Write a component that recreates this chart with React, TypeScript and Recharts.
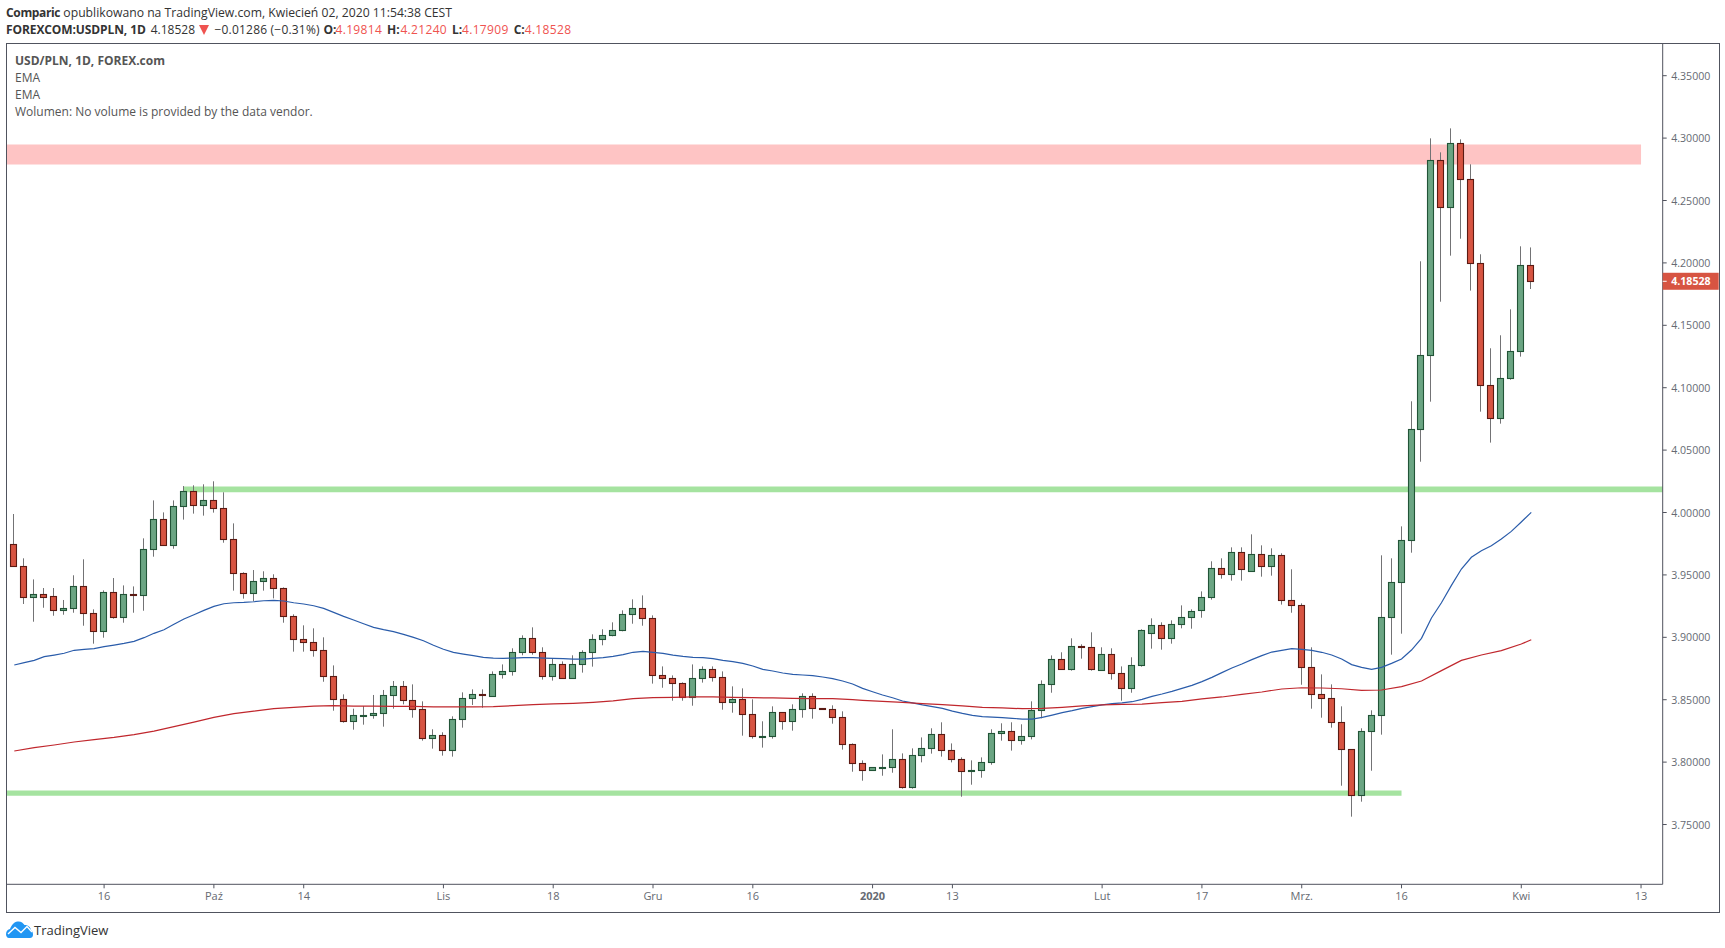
import React from "react";
import { ComposedChart, Bar, Line, XAxis, YAxis, ReferenceArea } from "recharts";

const opens = [
  3.9745,3.9569,3.9320,3.9344,3.9328,3.9216,3.9232,3.9408,3.9192,3.9048,
  3.9360,3.9160,3.9344,3.9336,3.9705,3.9945,3.9737,4.0049,4.0170,4.0057,
  4.0097,4.0033,3.9785,3.9513,3.9352,3.9448,3.9472,3.9392,3.9168,3.8984,
  3.8960,3.8896,3.8687,3.8503,3.8327,3.8372,3.8375,3.8391,3.8535,3.8607,
  3.8495,3.8423,3.8190,3.8215,3.8094,3.8343,3.8511,3.8543,3.8532,3.8703,
  3.8727,3.8880,3.8992,3.8880,3.8687,3.8783,3.8677,3.8783,3.8880,3.8984,
  3.9016,3.9056,3.9184,3.9232,3.9152,3.8695,3.8671,3.8631,3.8519,3.8671,
  3.8743,3.8679,3.8479,3.8503,3.8383,3.8204,3.8206,3.8399,3.8327,3.8423,
  3.8527,3.8431,3.8423,3.8359,3.8142,3.7990,3.7934,3.7955,3.7958,3.8022,
  3.7798,3.8054,3.8110,3.8223,3.8094,3.8022,3.7926,3.7934,3.7998,3.8230,
  3.8247,3.8174,3.8206,3.8415,3.8623,3.8823,3.8743,3.8928,3.8920,3.8735,
  3.8864,3.8711,3.8591,3.8775,3.9032,3.9096,3.8992,3.9104,3.9160,3.9216,
  3.9320,3.9553,3.9505,3.9681,3.9529,3.9665,3.9569,3.9657,3.9296,3.9256,
  3.8759,3.8543,3.8511,3.8319,3.8102,3.7734,3.8247,3.8375,3.9160,3.9441,
  3.9777,4.0666,4.1259,4.2822,4.2445,4.2958,4.2670,4.1997,4.1019,4.0755,
  4.1075,4.1291,4.19814,
];
const highs = [
  3.9988,3.9633,3.9464,3.9395,3.9395,3.9299,3.9497,3.9625,3.9224,3.9376,
  3.9475,3.9416,3.9408,3.9793,4.0097,4.0001,4.0097,4.0212,4.0218,4.0226,
  4.0250,4.0162,3.9913,3.9521,3.9539,3.9529,3.9505,3.9400,3.9184,3.9096,
  3.9072,3.9000,3.8775,3.8543,3.8428,3.8449,3.8538,3.8578,3.8650,3.8650,
  3.8623,3.8487,3.8263,3.8239,3.8367,3.8559,3.8583,3.8583,3.8727,3.8783,
  3.8912,3.9016,3.9080,3.8920,3.8832,3.8807,3.8856,3.8896,3.9024,3.9064,
  3.9120,3.9216,3.9304,3.9336,3.9176,3.8767,3.8695,3.8639,3.8783,3.8767,
  3.8767,3.8727,3.8607,3.8591,3.8503,3.8327,3.8447,3.8399,3.8463,3.8551,
  3.8551,3.8431,3.8455,3.8407,3.8150,3.8014,3.7958,3.8062,3.8263,3.8070,
  3.8110,3.8198,3.8271,3.8319,3.8150,3.8038,3.8014,3.8038,3.8263,3.8311,
  3.8319,3.8303,3.8487,3.8655,3.8855,3.8880,3.8992,3.8944,3.9040,3.8920,
  3.8912,3.8767,3.8840,3.9064,3.9152,3.9120,3.9136,3.9256,3.9224,3.9368,
  3.9609,3.9633,3.9721,3.9721,3.9825,3.9737,3.9713,3.9673,3.9545,3.9272,
  3.8920,3.8703,3.8623,3.8447,3.8102,3.8271,3.8415,3.9657,3.9633,3.9889,
  4.0891,4.2013,4.2998,4.2886,4.3078,4.2990,4.2790,4.2069,4.1316,4.1420,
  4.1628,4.2133,4.21240,
];
const lows = [
  3.9569,3.9267,3.9125,3.9237,3.9173,3.9181,3.9197,3.9093,3.8949,3.8997,
  3.9149,3.9117,3.9197,3.9213,3.9646,3.9737,3.9710,3.9943,3.9991,3.9975,
  3.9999,3.9758,3.9374,3.9310,3.9288,3.9374,3.9312,3.9117,3.8885,3.8885,
  3.8845,3.8644,3.8412,3.8316,3.8260,3.8300,3.8348,3.8284,3.8428,3.8463,
  3.8356,3.8172,3.8108,3.8052,3.8044,3.8276,3.8458,3.8436,3.8524,3.8669,
  3.8693,3.8856,3.8861,3.8661,3.8653,3.8669,3.8669,3.8717,3.8765,3.8936,
  3.9008,3.9048,3.9109,3.9093,3.8629,3.8596,3.8492,3.8492,3.8452,3.8637,
  3.8645,3.8420,3.8396,3.8212,3.8188,3.8116,3.8188,3.8260,3.8252,3.8356,
  3.8348,3.8423,3.8308,3.8100,3.7923,3.7851,3.7934,3.7891,3.7915,3.7787,
  3.7787,3.7998,3.8068,3.8044,3.7998,3.7723,3.7819,3.7875,3.7979,3.8172,
  3.8092,3.8140,3.8182,3.8351,3.8556,3.8743,3.8733,3.8829,3.8733,3.8735,
  3.8661,3.8492,3.8556,3.8765,3.8909,3.8901,3.8949,3.9072,3.9069,3.9157,
  3.9302,3.9470,3.9454,3.9454,3.9529,3.9486,3.9494,3.9262,3.9197,3.8620,
  3.8428,3.8356,3.8276,3.7811,3.7563,3.7683,3.7931,3.8220,3.8861,3.9029,
  3.9678,4.0407,4.0888,4.1689,4.2058,4.2194,4.1778,4.0808,4.0560,4.0712,
  4.1064,4.1249,4.17909,
];
const closes = [
  3.9569,3.9320,3.9344,3.9326,3.9216,3.9232,3.9408,3.9192,3.9048,3.9360,
  3.9160,3.9344,3.9336,3.9705,3.9945,3.9737,4.0049,4.0170,4.0057,4.0097,
  4.0033,3.9785,3.9513,3.9352,3.9448,3.9472,3.9392,3.9168,3.8984,3.8960,
  3.8896,3.8687,3.8503,3.8327,3.8375,3.8375,3.8391,3.8535,3.8607,3.8495,
  3.8423,3.8190,3.8215,3.8094,3.8343,3.8511,3.8543,3.8535,3.8703,3.8727,
  3.8880,3.8992,3.8880,3.8687,3.8783,3.8677,3.8783,3.8880,3.8984,3.9016,
  3.9056,3.9184,3.9232,3.9152,3.8695,3.8671,3.8631,3.8519,3.8671,3.8743,
  3.8679,3.8479,3.8503,3.8383,3.8206,3.8206,3.8399,3.8327,3.8423,3.8527,
  3.8431,3.8423,3.8359,3.8142,3.7990,3.7934,3.7958,3.7958,3.8022,3.7798,
  3.8054,3.8110,3.8223,3.8094,3.8022,3.7926,3.7934,3.7998,3.8230,3.8247,
  3.8174,3.8206,3.8415,3.8623,3.8823,3.8743,3.8928,3.8920,3.8743,3.8864,
  3.8711,3.8591,3.8775,3.9056,3.9096,3.8992,3.9104,3.9160,3.9208,3.9320,
  3.9553,3.9505,3.9681,3.9545,3.9665,3.9569,3.9657,3.9296,3.9256,3.8759,
  3.8543,3.8511,3.8319,3.8102,3.7734,3.8247,3.8375,3.9160,3.9441,3.9777,
  4.0666,4.1259,4.2822,4.2445,4.2958,4.2670,4.1997,4.1019,4.0755,4.1075,
  4.1291,4.1981,4.18528,
];
const emaFast = [
  3.8778,3.8797,3.8815,3.8845,3.8858,3.8872,3.8896,3.8904,3.8909,3.8925,
  3.8938,3.8952,3.8968,3.8997,3.9032,3.9061,3.9104,3.9147,3.9181,3.9216,
  3.9248,3.9269,3.9277,3.9280,3.9285,3.9293,3.9296,3.9291,3.9277,3.9267,
  3.9253,3.9232,3.9200,3.9168,3.9139,3.9109,3.9080,3.9061,3.9045,3.9024,
  3.9000,3.8973,3.8936,3.8904,3.8880,3.8866,3.8853,3.8839,3.8834,3.8831,
  3.8834,3.8837,3.8837,3.8834,3.8831,3.8829,3.8826,3.8826,3.8831,3.8837,
  3.8847,3.8861,3.8880,3.8888,3.8880,3.8871,3.8858,3.8847,3.8839,3.8837,
  3.8829,3.8815,3.8805,3.8791,3.8770,3.8743,3.8730,3.8714,3.8703,3.8698,
  3.8693,3.8682,3.8669,3.8650,3.8626,3.8591,3.8564,3.8538,3.8516,3.8490,
  3.8474,3.8458,3.8444,3.8431,3.8409,3.8391,3.8375,3.8364,3.8361,3.8356,
  3.8351,3.8345,3.8345,3.8359,3.8377,3.8396,3.8412,3.8431,3.8444,3.8458,
  3.8468,3.8474,3.8484,3.8503,3.8527,3.8546,3.8567,3.8591,3.8615,3.8645,
  3.8679,3.8717,3.8754,3.8786,3.8821,3.8853,3.8882,3.8896,3.8909,3.8904,
  3.8896,3.8880,3.8858,3.8826,3.8781,3.8759,3.8743,3.8759,3.8791,3.8826,
  3.8898,3.8992,3.9155,3.9277,3.9416,3.9547,3.9641,3.9694,3.9734,3.9788,
  3.9849,3.9924,4.0001,
];
const emaSlowPoints: [number, number][] = [
  [0,3.8089],[2,3.8116],[4,3.8137],[6,3.8161],[8,3.8180],[10,3.8198],[12,3.8220],[14,3.8249],
  [16,3.8284],[18,3.8321],[20,3.8359],[22,3.8388],[24,3.8409],[26,3.8428],[28,3.8439],[30,3.8449],
  [32,3.8452],[34,3.8449],[36,3.8449],[38,3.8447],[40,3.8447],[42,3.8442],[44,3.8442],[46,3.8442],
  [48,3.8444],[50,3.8452],[52,3.8460],[54,3.8466],[56,3.8471],[58,3.8479],[60,3.8490],[62,3.8508],
  [64,3.8516],[66,3.8519],[68,3.8522],[70,3.8522],[72,3.8519],[74,3.8516],[76,3.8514],[78,3.8511],
  [80,3.8508],[82,3.8508],[84,3.8500],[85,3.8495],[87,3.8487],[89,3.8479],[91,3.8468],[93,3.8460],
  [95,3.8450],[97,3.8439],[99,3.8434],[101,3.8428],[103,3.8431],[105,3.8439],[107,3.8450],[109,3.8458],
  [111,3.8463],[113,3.8465],[115,3.8476],[117,3.8487],[119,3.8506],[121,3.8522],[123,3.8543],[125,3.8562],
  [127,3.8586],[129,3.8596],[131,3.8594],[133,3.8588],[135,3.8575],[137,3.8578],[139,3.8605],[141,3.8650],
  [143,3.8733],[145,3.8815],[147,3.8858],[149,3.8893],[151,3.8946],[152,3.8981],
];
const priceTicks = [3.75,3.8,3.85,3.9,3.95,4.0,4.05,4.1,4.15,4.2,4.25,4.3,4.35];
const lastPrice = 4.18528;
const timeTicks = [9,20,29,43,54,64,74,86,94,109,119,129,139,151,163];
const timeLabels = ["16","Paź","14","Lis","18","Gru","16","2020","13","Lut","17","Mrz.","16","Kwi","13"];
const boldTimeLabels = ["2020"];
const resistanceBand = [4.2788, 4.2949];
const upperSupportBand = [4.0163, 4.0208];
const lowerSupportBand = [3.7730, 3.7772];

const rows = opens.map((open, i) => ({
  i,
  open,
  close: closes[i],
  high: highs[i],
  low: lows[i],
  range: [lows[i], highs[i]],
  fast: emaFast[i],
  slow: emaSlowPoints.find((p) => p[0] === i)?.[1] ?? null,
}));

const FONT = "'Open Sans', sans-serif";
const AXIS = "#50535E";
const TXT = "#666a72";
const X_MIN = -0.78;
const X_MAX = 165.17;

function Candle(props: any) {
  const { x, y, width, height, payload } = props;
  const cx = Math.floor(x + width / 2) + 0.5;
  const k = height / (payload.high - payload.low);
  const top = y + (payload.high - Math.max(payload.open, payload.close)) * k;
  const bot = y + (payload.high - Math.min(payload.open, payload.close)) * k;
  const up = payload.close >= payload.open;
  return (
    <g>
      <line x1={cx} x2={cx} y1={y} y2={y + height} stroke="#737375" strokeWidth={1} />
      <rect
        x={cx - 3}
        y={Math.round(top) + 0.5}
        width={6}
        height={Math.max(Math.round(bot) - Math.round(top), 1)}
        fill={up ? "#6BA583" : "#D75442"}
        stroke={up ? "#225437" : "#5B1A13"}
        strokeWidth={1.1}
      />
    </g>
  );
}

function PriceTick(props: any) {
  const { x, y, payload } = props;
  const isLast = payload.value === lastPrice;
  const axisX = x - 8;
  return (
    <g>
      {isLast && <rect x={axisX} y={y - 8.5} width={56} height={17} fill="#D75442" />}
      {isLast && <line x1={axisX} x2={axisX + 4} y1={y} y2={y} stroke="#ffffff" />}
      <text
        x={axisX + 8.5}
        y={y + 4}
        fontFamily={FONT}
        fontSize={10.6}
        fontWeight={isLast ? 700 : 400}
        fill={isLast ? "#ffffff" : TXT}
      >
        {payload.value.toFixed(5)}
      </text>
    </g>
  );
}

function TimeTick(props: any) {
  const { x, y, payload } = props;
  const label = timeLabels[timeTicks.indexOf(payload.value)];
  return (
    <text
      x={x}
      y={y + 10}
      textAnchor="middle"
      fontFamily={FONT}
      fontSize={11}
      fontWeight={boldTimeLabels.includes(label) ? 700 : 400}
      fill={TXT}
    >
      {label}
    </text>
  );
}

const abs = (left: number, top: number): React.CSSProperties => ({
  position: "absolute",
  left,
  top,
  whiteSpace: "nowrap",
  fontFamily: FONT,
  lineHeight: "16px",
});

const HDR = "#333";
const RED = "#EF5350";

function Ohlc({ label, left, valueLeft, value }: { label: string; left: number; valueLeft: number; value: string }) {
  return (
    <>
      <span style={{ ...abs(left, 22), fontSize: 12, fontWeight: 700, color: HDR }}>{label}</span>
      <span style={{ ...abs(valueLeft, 22), fontSize: 12, letterSpacing: 0.33, color: RED }}>{value}</span>
    </>
  );
}

export default function App() {
  const b = { fontWeight: 700 };
  return (
    <div style={{ position: "absolute", left: 0, top: 0, width: 1725, height: 948, background: "#fff", overflow: "hidden" }}>
      <div style={{ ...abs(6, 5), fontSize: 12.19, color: HDR }}>
        <span style={{ ...b, fontSize: 12, letterSpacing: -0.35 }}>Comparic</span> opublikowano na TradingView.com, Kwiecień 02, 2020 11:54:38 CEST
      </div>
      <span style={{ ...abs(6, 22), fontSize: 12, letterSpacing: -0.1, color: HDR, ...b }}>FOREXCOM:USDPLN, 1D</span>
      <span style={{ ...abs(150.7, 22), fontSize: 12, color: HDR }}>4.18528</span>
      <svg style={{ position: "absolute", left: 199, top: 25 }} width={10} height={10}>
        <path d="M0 0 L10 0 L5 10 Z" fill={RED} />
      </svg>
      <span style={{ ...abs(214.5, 22), fontSize: 12, letterSpacing: 0.2, color: HDR }}>−0.01286 (−0.31%)</span>
      <Ohlc label="O:" left={323.4} valueLeft={335.5} value="4.19814" />
      <Ohlc label="H:" left={387} valueLeft={400.4} value="4.21240" />
      <Ohlc label="L:" left={452} valueLeft={462} value="4.17909" />
      <Ohlc label="C:" left={513.7} valueLeft={524.7} value="4.18528" />
      <ComposedChart
        width={1725}
        height={948}
        data={rows}
        margin={{ left: 6.5, right: 6.3, top: 43.5, bottom: 36.7 }}
        style={{ position: "absolute", left: 0, top: 0 }}
      >
        <XAxis
          dataKey="i"
          type="number"
          domain={[X_MIN, X_MAX]}
          allowDataOverflow
          ticks={timeTicks}
          interval={0}
          height={27}
          stroke={AXIS}
          tickSize={4}
          tick={<TimeTick />}
        />
        <YAxis
          orientation="right"
          domain={[3.7021, 4.3758]}
          allowDataOverflow
          ticks={[...priceTicks, lastPrice]}
          interval={0}
          width={56}
          stroke={AXIS}
          tickSize={4}
          tickMargin={4}
          tick={<PriceTick />}
        />
        <ReferenceArea x1={X_MIN} x2={163} y1={resistanceBand[0]} y2={resistanceBand[1]} fill="#FEC4C4" fillOpacity={1} stroke="none" />
        <ReferenceArea x1={17} x2={X_MAX} y1={upperSupportBand[0]} y2={upperSupportBand[1]} fill="#A5E3A0" fillOpacity={1} stroke="none" />
        <ReferenceArea x1={X_MIN} x2={139} y1={lowerSupportBand[0]} y2={lowerSupportBand[1]} fill="#A5E3A0" fillOpacity={1} stroke="none" />
        <Line dataKey="fast" stroke="#2A5CAA" strokeWidth={1.2} dot={false} type="linear" isAnimationActive={false} />
        <Line dataKey="slow" stroke="#C0272D" strokeWidth={1.2} dot={false} type="linear" connectNulls isAnimationActive={false} />
        <Bar dataKey="range" barSize={7} shape={<Candle />} isAnimationActive={false} />
      </ComposedChart>
      <div
        style={{
          position: "absolute",
          left: 6,
          top: 43,
          width: 1712,
          height: 868,
          border: `1px solid ${AXIS}`,
          boxSizing: "content-box",
          pointerEvents: "none",
        }}
      />
      <div style={{ ...abs(15, 53), fontSize: 12, color: "#555", ...b }}>USD/PLN, 1D, FOREX.com</div>
      <div style={{ ...abs(15, 70), fontSize: 12, color: "#555" }}>EMA</div>
      <div style={{ ...abs(15, 87), fontSize: 12, color: "#555" }}>EMA</div>
      <div style={{ ...abs(15, 104), fontSize: 12, color: "#555" }}>Wolumen: No volume is provided by the data vendor.</div>
      <svg style={{ position: "absolute", left: 6, top: 921 }} width={27} height={17} viewBox="0 0 27 17">
        <path
          d="M0 13 C0 10 2 8.5 4 8 C5.5 4 8 1 11.5 0.5 C15 0 17 2 18.5 4 C22 4 24.5 6 25 9 C27 10.5 27 13 27 14 C27 16 25.5 17 24 17 L3 17 C1 17 0 15 0 13 Z"
          fill="#2196F3"
        />
        <path d="M2 13 L9 6.5 L15 11.5 L21 5.5 L26 11" fill="none" stroke="#ffffff" strokeWidth={1.4} />
      </svg>
      <div style={{ ...abs(34, 922), fontSize: 13, color: "#333" }}>TradingView</div>
    </div>
  );
}
